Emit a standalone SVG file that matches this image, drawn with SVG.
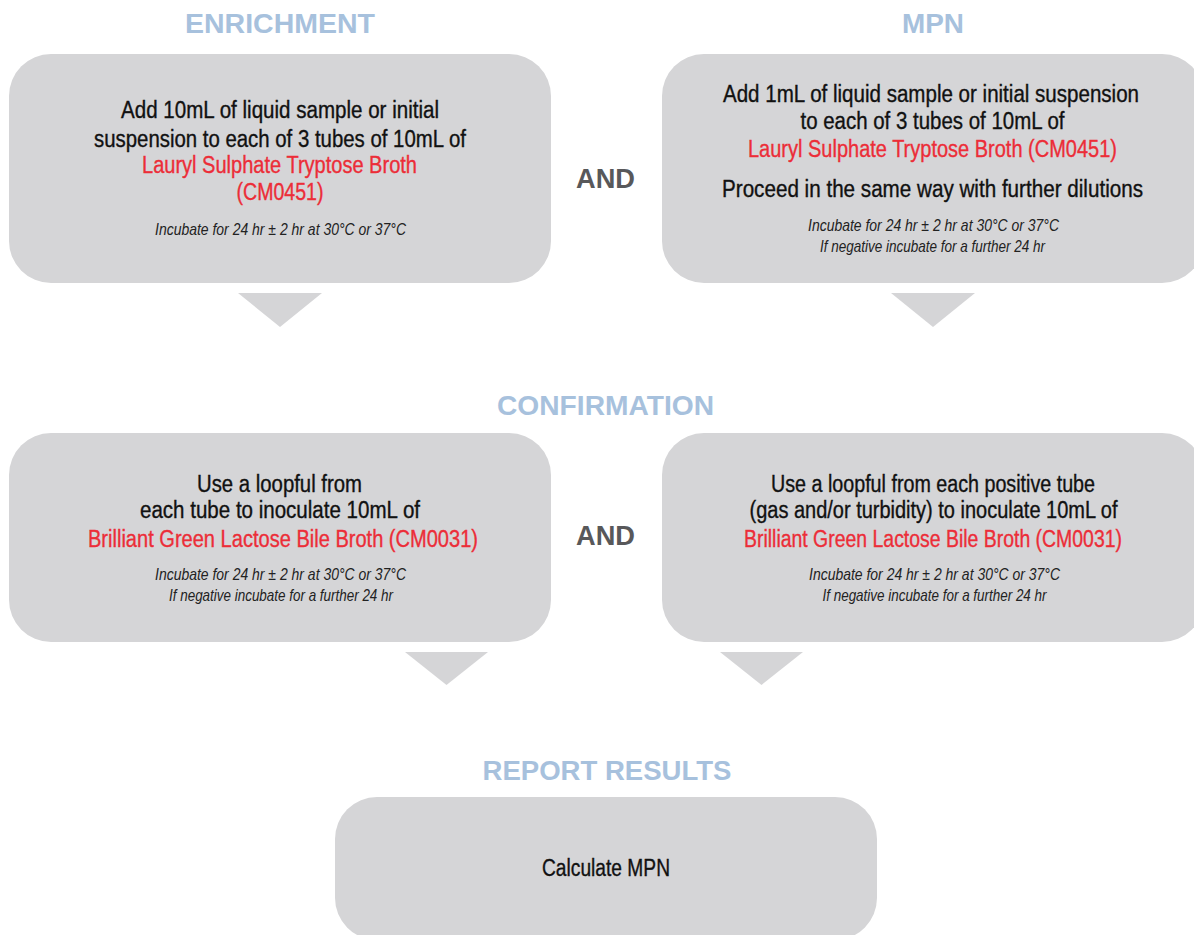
<svg xmlns="http://www.w3.org/2000/svg" width="1194" height="935" viewBox="0 0 1194 935">
<style>
.box{fill:#d5d5d7}
.tri{fill:#d5d5d7}
.h{font-family:"Liberation Sans",Arial,sans-serif;font-weight:bold;font-size:27px;fill:#a7c1dd;text-anchor:middle}
.and{font-family:"Liberation Sans",Arial,sans-serif;font-weight:bold;font-size:27px;fill:#58585a;text-anchor:middle}
.t{font-family:"Liberation Sans Narrow","Liberation Sans",Arial,sans-serif;font-size:23px;fill:#111;stroke:#111;stroke-width:0.35;text-anchor:middle}
.r{fill:#ec2d38;stroke:#ec2d38}
.i{font-family:"Liberation Sans Narrow","Liberation Sans",Arial,sans-serif;font-style:italic;font-size:17px;fill:#222;text-anchor:middle}
</style>
<rect width="1194" height="935" fill="#ffffff"/>
<g id="headings">
<text class="h" x="280" y="33" textLength="190" lengthAdjust="spacingAndGlyphs">ENRICHMENT</text>
<text class="h" x="933" y="33" textLength="62" lengthAdjust="spacingAndGlyphs">MPN</text>
<text class="h" x="605.5" y="415" textLength="217" lengthAdjust="spacingAndGlyphs">CONFIRMATION</text>
<text class="h" x="607" y="780" textLength="249" lengthAdjust="spacingAndGlyphs">REPORT RESULTS</text>
<text class="and" x="605.5" y="188" textLength="59" lengthAdjust="spacingAndGlyphs">AND</text>
<text class="and" x="605.5" y="545" textLength="59" lengthAdjust="spacingAndGlyphs">AND</text>
</g>
<g id="enrichment">
<rect class="box" x="9" y="54" width="542" height="229" rx="42" ry="42"/>
<text class="t" x="280" y="118" textLength="318" lengthAdjust="spacingAndGlyphs">Add 10mL of liquid sample or initial</text>
<text class="t" x="280" y="147" textLength="372" lengthAdjust="spacingAndGlyphs">suspension to each of 3 tubes of 10mL of</text>
<text class="t r" x="279.5" y="173" textLength="275" lengthAdjust="spacingAndGlyphs">Lauryl Sulphate Tryptose Broth</text>
<text class="t r" x="280" y="200" textLength="87" lengthAdjust="spacingAndGlyphs">(CM0451)</text>
<text class="i" x="280.5" y="235" textLength="251" lengthAdjust="spacingAndGlyphs">Incubate for 24 hr ± 2 hr at 30°C or 37°C</text>
</g>
<g id="mpn">
<rect class="box" x="662" y="54" width="542" height="229" rx="42" ry="42"/>
<text class="t" x="931" y="102" textLength="416" lengthAdjust="spacingAndGlyphs">Add 1mL of liquid sample or initial suspension</text>
<text class="t" x="932.5" y="129" textLength="264" lengthAdjust="spacingAndGlyphs">to each of 3 tubes of 10mL of</text>
<text class="t r" x="932.5" y="157" textLength="369" lengthAdjust="spacingAndGlyphs">Lauryl Sulphate Tryptose Broth (CM0451)</text>
<text class="t" x="932.5" y="197" textLength="421" lengthAdjust="spacingAndGlyphs">Proceed in the same way with further dilutions</text>
<text class="i" x="933.5" y="231" textLength="251" lengthAdjust="spacingAndGlyphs">Incubate for 24 hr ± 2 hr at 30°C or 37°C</text>
<text class="i" x="932.5" y="252" textLength="225" lengthAdjust="spacingAndGlyphs">If negative incubate for a further 24 hr</text>
</g>
<g id="confirm-left">
<rect class="box" x="9" y="433" width="542" height="209" rx="42" ry="42"/>
<text class="t" x="279.5" y="492" textLength="165" lengthAdjust="spacingAndGlyphs">Use a loopful from</text>
<text class="t" x="280" y="518" textLength="280" lengthAdjust="spacingAndGlyphs">each tube to inoculate 10mL of</text>
<text class="t r" x="283" y="547" textLength="390" lengthAdjust="spacingAndGlyphs">Brilliant Green Lactose Bile Broth (CM0031)</text>
<text class="i" x="280.5" y="580" textLength="251" lengthAdjust="spacingAndGlyphs">Incubate for 24 hr ± 2 hr at 30°C or 37°C</text>
<text class="i" x="281" y="601" textLength="224" lengthAdjust="spacingAndGlyphs">If negative incubate for a further 24 hr</text>
</g>
<g id="confirm-right">
<rect class="box" x="662" y="433" width="542" height="209" rx="42" ry="42"/>
<text class="t" x="933" y="492" textLength="324" lengthAdjust="spacingAndGlyphs">Use a loopful from each positive tube</text>
<text class="t" x="933.5" y="518" textLength="368" lengthAdjust="spacingAndGlyphs">(gas and/or turbidity) to inoculate 10mL of</text>
<text class="t r" x="933" y="547" textLength="378" lengthAdjust="spacingAndGlyphs">Brilliant Green Lactose Bile Broth (CM0031)</text>
<text class="i" x="934.5" y="580" textLength="251" lengthAdjust="spacingAndGlyphs">Incubate for 24 hr ± 2 hr at 30°C or 37°C</text>
<text class="i" x="934.5" y="601" textLength="224" lengthAdjust="spacingAndGlyphs">If negative incubate for a further 24 hr</text>
</g>
<g id="report">
<rect class="box" x="335" y="797" width="542" height="143" rx="42" ry="42"/>
<text class="t" x="606" y="876" textLength="128" lengthAdjust="spacingAndGlyphs">Calculate MPN</text>
</g>
<g id="connectors">
<polygon class="tri" points="238,293 322,293 280,327"/>
<polygon class="tri" points="891,293 975,293 933,327"/>
<polygon class="tri" points="405,652 488,652 446.5,685"/>
<polygon class="tri" points="720,652 803,652 761.5,685"/>
</g>
</svg>
